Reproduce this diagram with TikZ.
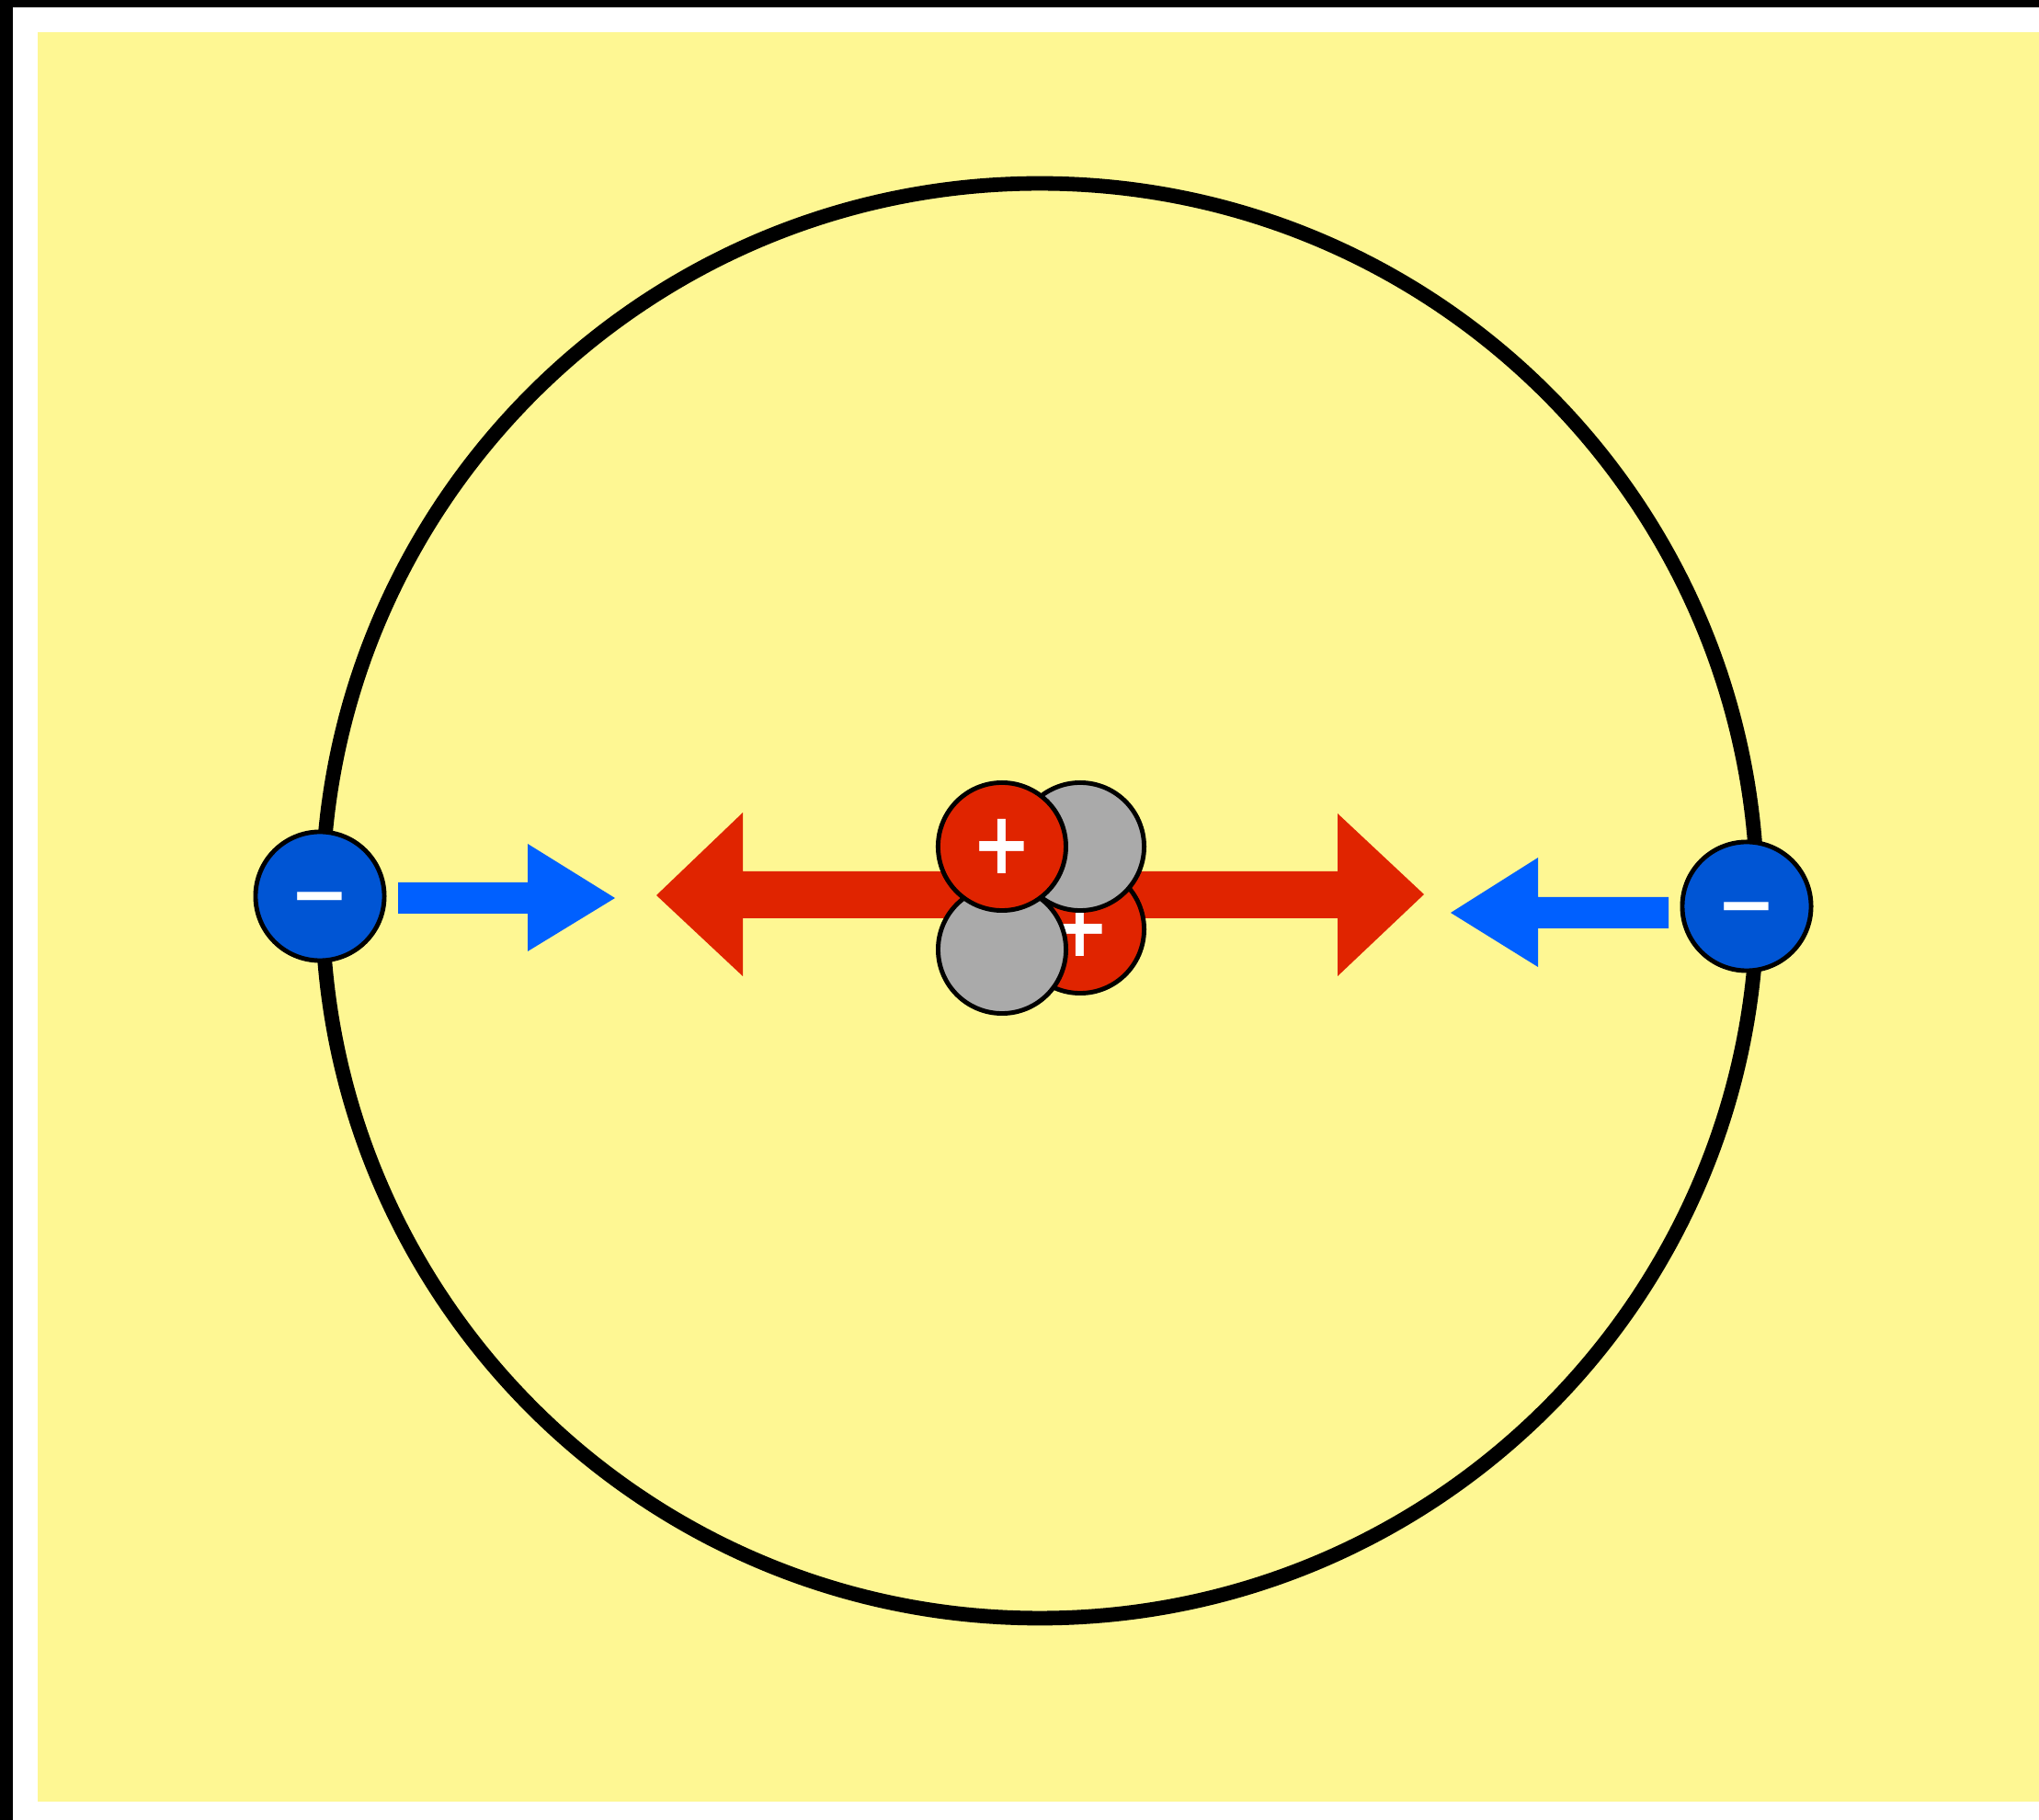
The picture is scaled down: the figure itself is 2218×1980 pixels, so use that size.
\documentclass[tikz,border=0pt]{standalone}
\usepackage{graphicx}
\usepackage{fontspec}
\setsansfont{DejaVu Sans}
\usetikzlibrary{positioning}

\definecolor{paper}{HTML}{FEF793}
\definecolor{protonred}{HTML}{E02400}
\definecolor{electronblue}{HTML}{0055D4}
\definecolor{pullblue}{HTML}{0060FF}
\definecolor{neutrongray}{HTML}{AAAAAA}

% charge signs
\newcommand{\pluscharge}{\scalebox{1}[1.22]{+}}
\newcommand{\minuscharge}{\vphantom{+}−}

\begin{document}
\begin{tikzpicture}[x=0.01cm, y=-0.01cm, node distance=0.85cm,
    sign/.style={text=white, font=\sffamily\bfseries\fontsize{22}{22}\selectfont},
    electron/.style={draw, circle, line width=1.4pt, fill=electronblue, minimum size=1.40cm, inner sep=0pt, sign},
    proton/.style={draw, circle, line width=1.4pt, fill=protonred, minimum size=1.39cm, inner sep=0pt, sign},
    neutron/.style={draw, circle, line width=1.4pt, fill=neutrongray, minimum size=1.39cm, inner sep=0pt}]
  \useasboundingbox (0,0) rectangle (2218,1980);

  % frame and background
  \fill[black] (0,0) rectangle (2218,1980);
  \fill[white] (14,8) rectangle (2218,1980);
  \fill[paper] (41,35) rectangle (2218,1960);

  % orbit
  \draw[line width=4.5pt] (1131,980) circle [radius=7.8cm];

  % repulsion between the protons
  \fill[protonred] (714,974) -- (808,884) -- (808,948) -- (1455,948) -- (1455,885)
    -- (1549,973) -- (1455,1062) -- (1455,999) -- (808,999) -- (808,1062) -- cycle;

  % attraction of the electrons
  \fill[pullblue] (433,960) -- (574,960) -- (574,918) -- (669,977)
    -- (574,1035) -- (574,994) -- (433,994) -- cycle;
  \fill[pullblue] (1815,976) -- (1673,976) -- (1673,933) -- (1578,993)
    -- (1673,1052) -- (1673,1010) -- (1815,1010) -- cycle;

  \node[electron] (e1) at (348,975) {\minuscharge};
  \node[electron] (e2) at (1900,986) {\minuscharge};

  % nucleus, back to front
  \node[proton] (p2) at (1175,1011) {\pluscharge};
  \node[neutron] (n2) at (1090,1033) {};
  \node[neutron] (n1) at (1175,921) {};
  \node[proton, left=0pt of n1.center, anchor=center, xshift=-0.85cm] (p1) {\pluscharge};
\end{tikzpicture}
\end{document}
